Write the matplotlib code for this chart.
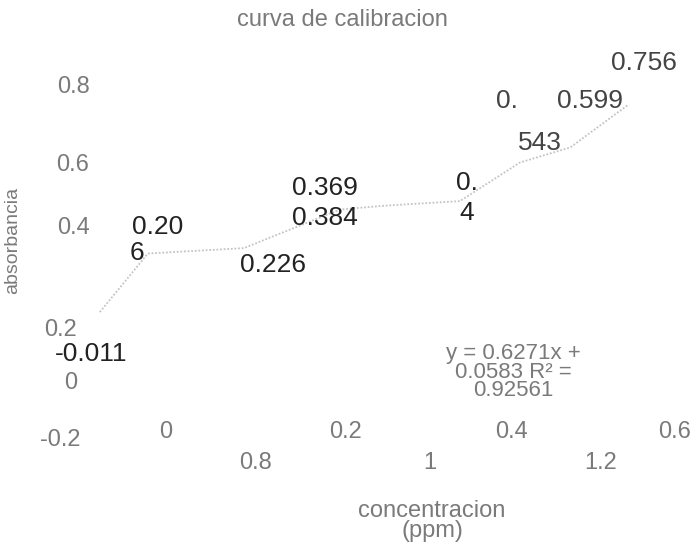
import matplotlib
matplotlib.use('Agg')
import matplotlib.pyplot as plt

plt.rcParams['font.family'] = ['Liberation Sans', 'DejaVu Sans']

# data (concentration estimated, absorbance read from the labels)
concentracion = [0, 0.1, 0.3, 0.5, 0.6, 0.75, 0.875, 0.98, 1.1]
absorbancia = [-0.011, 0.206, 0.226, 0.369, 0.384, 0.4, 0.543, 0.599, 0.756]

y_ticks = ['0.8', '0.6', '0.4', '0.2', '0', '-0.2']
x_ticks = ['0', '0.2', '0.4', '0.6', '0.8', '1', '1.2']
# the labels come out wrapped in the reference
point_labels = ['-0.011', '0.20\n6', '0.226', '0.369', '0.384', '0.\n4', '0.\n543', '0.599', '0.756']
equation = 'y = 0.6271x +\n0.0583 R² =\n0.92561'

W, H = 697, 554
fig = plt.figure(figsize=(W / 100, H / 100), dpi=100)
ax = fig.add_axes([0, 0, 1, 1])
ax.set_xlim(-0.208, 1.244)
ax.set_ylim(-0.907, 1.145)
ax.axis('off')

# faint dotted line through the points
ax.plot(concentracion, absorbancia, color='#c4c4c4', lw=1.3, ls=(0, (1, 1)))


def px(x, y):
    return x / W, 1 - y / H


tick_col = '#7a7a7a'
fig.text(*px(342, 20), 'curva de calibracion', ha='center', va='center', fontsize=17, color=tick_col)

# y tick labels (pixel centres)
ytick_pos = [(73, 87), (73, 165), (73, 228), (60, 330), (71, 383), (60, 440)]
for lab, (x, y) in zip(y_ticks, ytick_pos):
    fig.text(*px(x, y), lab, ha='center', va='center', fontsize=17, color=tick_col)

xtick_pos = [(166, 432), (345, 432), (511, 432), (675, 432), (255, 463), (430, 463), (601, 463)]
for lab, (x, y) in zip(x_ticks, xtick_pos):
    fig.text(*px(x, y), lab, ha='center', va='center', fontsize=17, color=tick_col)

# data labels, pieces placed where the reference shows them
pieces = []
for lab in point_labels:
    pieces.extend(lab.split('\n'))
piece_pos = [(91, 354), (158, 227), (137, 253), (273, 265), (325, 188), (325, 218),
             (467, 183), (467, 213), (507, 101), (540, 143), (590, 101), (644, 63)]
piece_col = ['#222222'] * 8 + ['#444444'] * 4
for lab, (x, y), c in zip(pieces, piece_pos, piece_col):
    fig.text(*px(x, y), lab, ha='center', va='center', fontsize=19, color=c)

fig.text(*px(513, 372), equation, ha='center', va='center', fontsize=16,
         color=tick_col, linespacing=0.85)

fig.text(*px(432, 521), 'concentracion\n(ppm)', ha='center', va='center',
         fontsize=17, color=tick_col, linespacing=0.85)
fig.text(*px(13, 240), 'absorbancia', ha='center', va='center', rotation=90,
         fontsize=14, color=tick_col)

fig.savefig('out.png', dpi=100)
